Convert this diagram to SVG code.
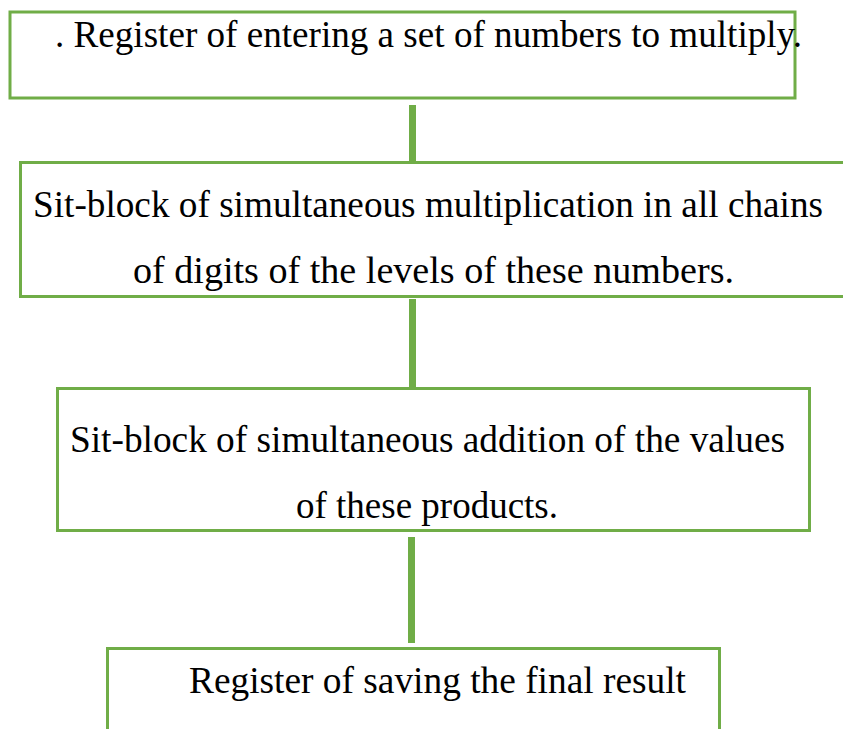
<svg xmlns="http://www.w3.org/2000/svg" width="843" height="729" viewBox="0 0 843 729">
<style>
.box{fill:#ffffff;stroke:#70ad47;stroke-width:3}
.conn{stroke:#70ad47;stroke-width:7;fill:none}
.t{font-family:'Liberation Serif',serif;font-size:37px;fill:#000000}
</style>
<rect width="843" height="729" fill="#ffffff"/>
<g id="connectors">
<line class="conn" x1="412.5" y1="105" x2="412.5" y2="161"/>
<line class="conn" x1="412.5" y1="299" x2="412.5" y2="387"/>
<line class="conn" x1="411.5" y1="537" x2="411.5" y2="643"/>
</g>
<g id="node1">
<rect class="box" x="10" y="12" width="785" height="86"/>
<text class="t" x="55" y="47" textLength="747" lengthAdjust="spacingAndGlyphs">. Register of entering a set of numbers to multiply.</text>
</g>
<g id="node2">
<rect class="box" x="20.5" y="162.5" width="830" height="134"/>
<text class="t" x="33" y="217" textLength="790" lengthAdjust="spacingAndGlyphs">Sit-block of simultaneous multiplication in all chains</text>
<text class="t" x="133" y="283" textLength="601" lengthAdjust="spacingAndGlyphs">of digits of the levels of these numbers.</text>
</g>
<g id="node3">
<rect class="box" x="57.5" y="388.5" width="752" height="142"/>
<text class="t" x="70" y="452" textLength="715" lengthAdjust="spacingAndGlyphs">Sit-block of simultaneous addition of the values</text>
<text class="t" x="296" y="518" textLength="262" lengthAdjust="spacingAndGlyphs">of these products.</text>
</g>
<g id="node4">
<rect class="box" x="107.5" y="648.5" width="612" height="100"/>
<text class="t" x="189" y="693" textLength="497" lengthAdjust="spacingAndGlyphs">Register of saving the final result</text>
</g>
</svg>
